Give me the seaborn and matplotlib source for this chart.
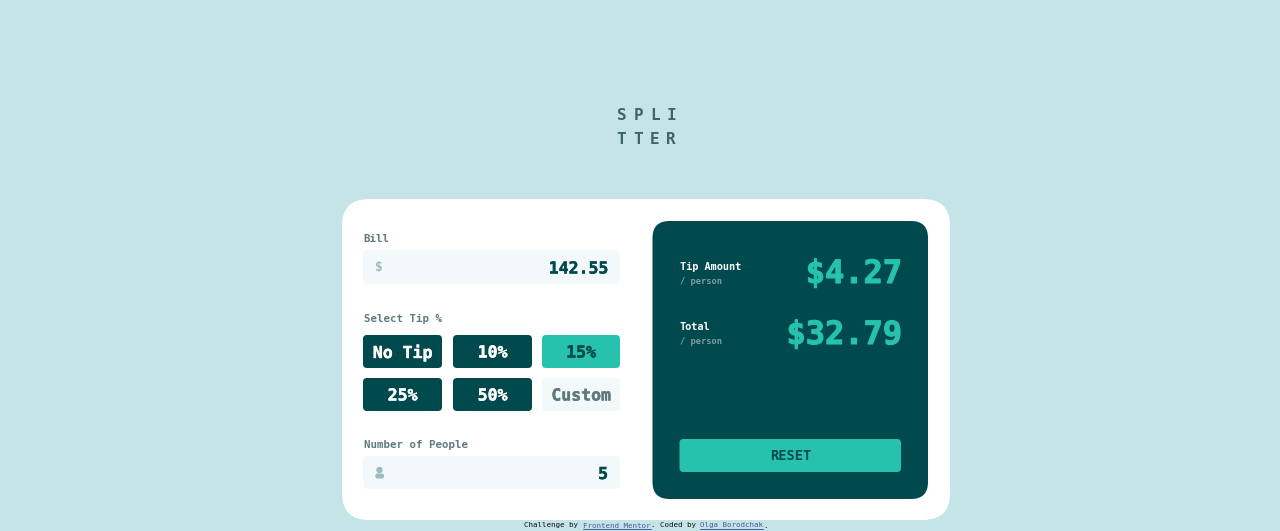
import matplotlib
matplotlib.use("Agg")
import matplotlib.pyplot as plt
import matplotlib.patheffects as pe
from matplotlib.patches import FancyBboxPatch, Circle
import seaborn as sns

# text and values from the calculator card
logo_rows = ["SPLI", "TTER"]
bill_label = "Bill"
bill_value = "142.55"
tip_label = "Select Tip %"
tip_options = ["No Tip", "10%", "15%", "25%", "50%", "Custom"]
selected_tip = "15%"
custom_tip = "Custom"
people_label = "Number of People"
people_value = "5"
result_titles = ["Tip Amount", "Total"]
result_units = ["/ person", "/ person"]
result_values = ["$4.27", "$32.79"]
reset_label = "RESET"
footer_parts = ["Challenge by ", "Frontend Mentor", ". Coded by ", "Olga Borodchak", "."]

BG = "#C5E4E7"
DARK = "#00494D"
TEAL = "#26C2AE"
PALE = "#F3F9FA"
GREY = "#5E7A7D"
HINT = "#9EBBBD"
MONO = "DejaVu Sans Mono"

sns.set_theme(style="white", rc={"figure.facecolor": BG, "axes.facecolor": BG})

fig = plt.figure(figsize=(12.8, 5.31), dpi=100)
ax = fig.add_axes([0, 0, 1, 1])
ax.set_xlim(0, 1280)
ax.set_ylim(531, 0)
ax.axis("off")
sns.despine(ax=ax, left=True, bottom=True)


def box(x0, y0, x1, y1, color, r):
    # the round boxstyle cuts corners tighter than css, so r is a bit larger here
    ax.add_patch(FancyBboxPatch((x0, y0), x1 - x0, y1 - y0,
                                boxstyle=f"round,pad=0,rounding_size={r}",
                                fc=color, ec="none", lw=0))


def label(x, y, s, px, color, ha="left", weight="bold", thick=0):
    # px is the css-ish font size, at 100 dpi 1px = 0.72pt
    t = ax.text(x, y, s, fontsize=px * 0.72, color=color, ha=ha, va="center",
                family=MONO, fontweight=weight)
    if thick:
        t.set_path_effects([pe.withStroke(linewidth=thick, foreground=color)])
    return t


# logo, letters spaced out by hand
for row, word in enumerate(logo_rows):
    for col, ch in enumerate(word):
        label(621.5 + col * 16.6, 116 + row * 23.5, ch, 16, "#3D6666", ha="center")

# cards
box(342, 199, 950, 520, "white", 27)
box(652.5, 221, 928, 499, DARK, 17)

# left column
label(363.5, 239, bill_label, 10.8, GREY)
box(363, 250, 620, 284, PALE, 5)
label(375, 267.5, "$", 13, HINT)
label(608, 268.5, bill_value, 16.5, DARK, ha="right", thick=0.3)

label(363.5, 318.5, tip_label, 10.8, GREY)
xs = [(363, 442), (453, 532), (542, 620)]
ys = [(335, 368), (378, 411)]
for i, opt in enumerate(tip_options):
    x0, x1 = xs[i % 3]
    y0, y1 = ys[i // 3]
    if opt == custom_tip:
        fc, tc = PALE, GREY
    elif opt == selected_tip:
        fc, tc = TEAL, DARK
    else:
        fc, tc = DARK, "white"
    box(x0, y0, x1, y1, fc, 4)
    label((x0 + x1) / 2, (y0 + y1) / 2 + 1, opt, 16.5, tc, ha="center", thick=0.3)

label(363.5, 444.5, people_label, 10.8, GREY)
box(363, 456, 620, 489, PALE, 5)
# little person icon
ax.add_patch(Circle((379.5, 470), 3.2, fc=HINT, ec="none"))
box(375.3, 473.5, 384, 478.5, HINT, 2)
label(608, 474, people_value, 16.5, DARK, ha="right", thick=0.3)

# right column
for i in range(len(result_titles)):
    dy = i * 61
    label(680, 266.5 + dy, result_titles[i], 10.2, "white")
    label(680, 281 + dy, result_units[i], 8.8, "#7F9D9F")
    label(902, 274.5 + dy, result_values[i], 32, TEAL, ha="right", thick=0.8)

box(679.5, 439, 901, 472, TEAL, 4)
label(790.5, 456, reset_label, 13.6, DARK, ha="center")

# footer, one monospaced cell per character so the links line up
x = 524
cell = 244 / sum(len(p) for p in footer_parts)
for i, part in enumerate(footer_parts):
    is_link = i in (1, 3)
    label(x, 525.5, part, 7.5, "#4A5A9E" if is_link else "#111111", weight="normal")
    w = len(part) * cell
    if is_link:
        ax.plot([x, x + w], [529, 529], color="#4A5A9E", lw=0.7)
    x += w

fig.savefig("out.png", dpi=100, facecolor=BG)
